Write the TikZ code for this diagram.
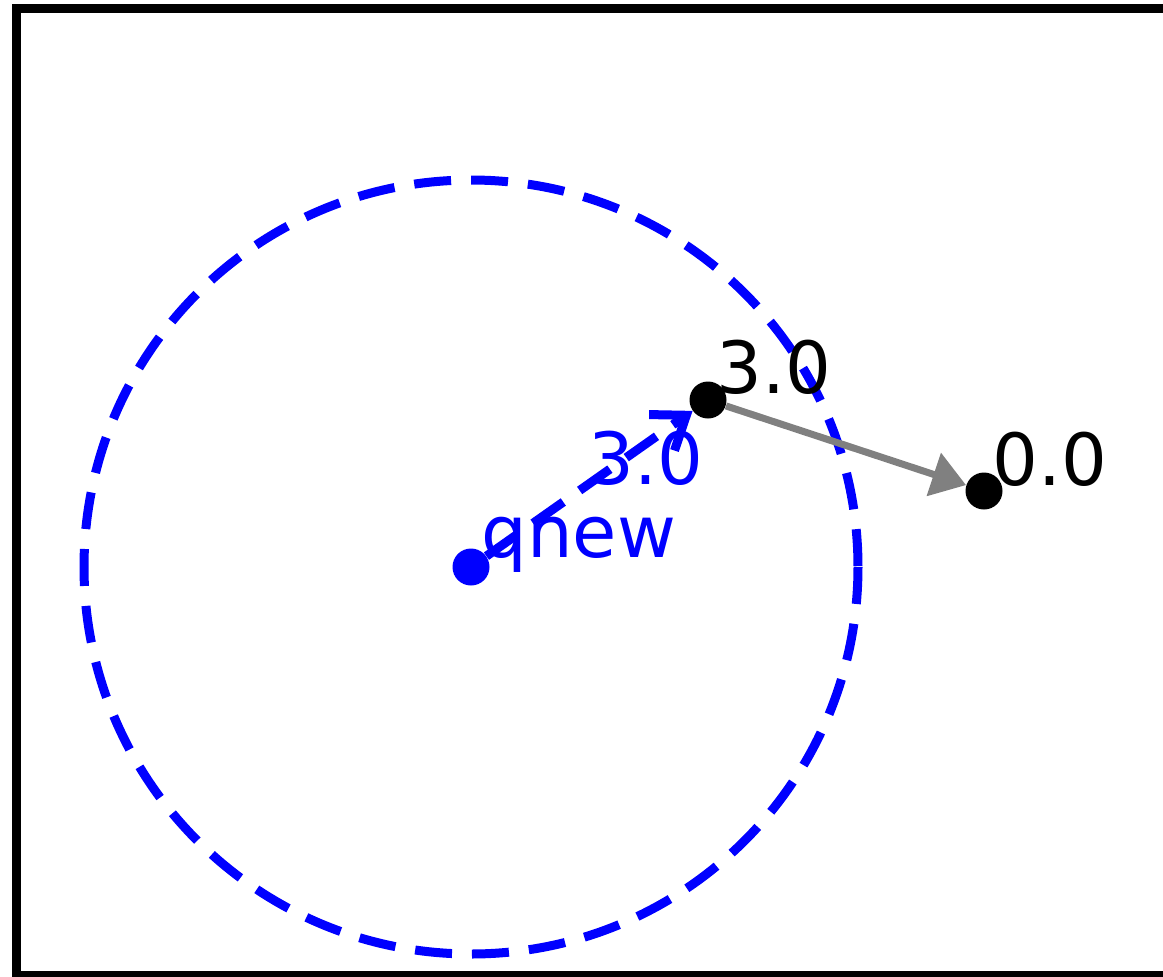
\documentclass[tikz,border=0pt]{standalone}
\usepackage{fontspec}
\setmainfont{DejaVu Sans}
\usetikzlibrary{arrows.meta}

\begin{document}
\begin{tikzpicture}[x=0.5pt,y=-0.5pt,
  dot/.style={circle,fill,inner sep=0pt,minimum size=18.5pt},
  lbl/.style={anchor=base west,inner sep=0pt,font=\fontsize{36}{40}\selectfont},
  blueline/.style={blue,line width=4.5pt,dash pattern=on 18.5pt off 10pt}]
\clip (0,0) rectangle (1163,976);
\draw[line width=4.5pt] (16,8) rectangle (1200,975);
\draw[blueline] (471,567) circle[radius=387];

\node[dot,blue] (qnew) at (471,567) {};
\node[dot] (p) at (708,400) {};
\node[dot] (r) at (984,491) {};

\draw[blueline,-{Straight Barb[length=15pt,width=22pt]}] (qnew) -- (p);
\draw[gray,line width=3.5pt,-{Triangle[length=17pt,width=22pt]}] (p) -- (r);

\node[lbl] (p_val) at (716,393) {3.0};
\node[lbl] (r_val) at (992,485) {0.0};
\node[lbl,blue] (dist) at (588,484) {3.0};
\node[lbl,blue] (qnew_name) at (481,557) {qnew};
\end{tikzpicture}
\end{document}
